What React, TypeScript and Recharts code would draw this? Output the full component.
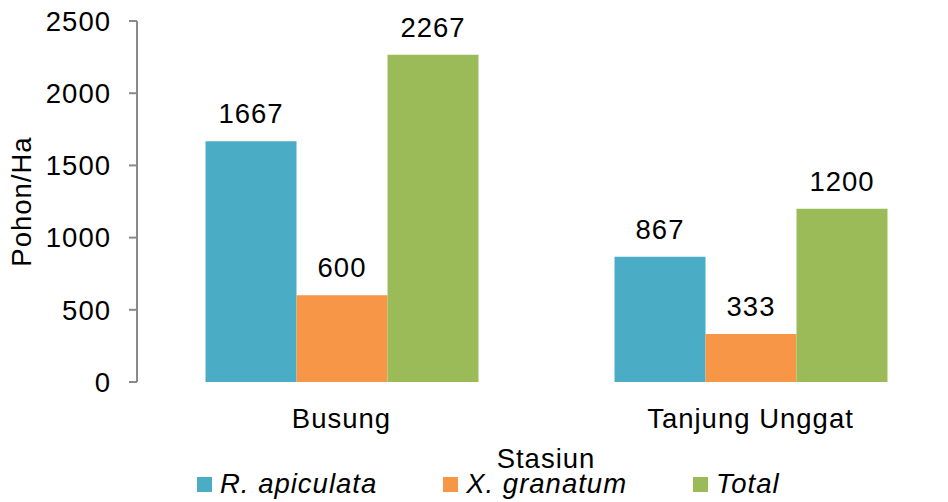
import { BarChart, Bar, XAxis, YAxis, Legend, LabelList } from 'recharts'

const stations = ['Busung', 'Tanjung Unggat']
const apiculata = [1667, 867]
const granatum = [600, 333]
const total = [2267, 1200]
const yTicks = [0, 500, 1000, 1500, 2000, 2500]

const seriesInfo = [
  { key: 'apiculata', name: 'R. apiculata', color: '#4BACC6' },
  { key: 'granatum', name: 'X. granatum', color: '#F79646' },
  { key: 'total', name: 'Total', color: '#9BBB59' },
]

const data = stations.map((s, i) => ({
  station: s,
  apiculata: apiculata[i],
  granatum: granatum[i],
  total: total[i],
}))

const font = 'Liberation Sans, Arial, sans-serif'
const axisColor = '#8a8a8a'
const txt = { fontFamily: font, fontSize: 27.5, fill: '#000', letterSpacing: 1 }

function LegendBox() {
  return (
    <div style={{ display: 'flex', alignItems: 'center', fontFamily: font, fontSize: 27.5, letterSpacing: 1, fontStyle: 'italic', color: '#000', lineHeight: '28px' }}>
      {seriesInfo.map((s, i) => (
        <div key={s.key} style={{ display: 'flex', alignItems: 'center', marginRight: i < 2 ? 66 : 0 }}>
          <span style={{ width: 15, height: 15, background: s.color, display: 'inline-block', marginRight: 8 }} />
          <span>{s.name}</span>
        </div>
      ))}
    </div>
  )
}

export default function App() {
  return (
    <div style={{ position: 'fixed', left: 0, top: 0, width: 948, height: 502, overflow: 'hidden', background: '#fff' }}>
      <BarChart
        width={960}
        height={502}
        data={data}
        margin={{ top: 21, right: 5, bottom: 0, left: 0 }}
        barCategoryGap="16.75%"
        barGap={0}
      >
        <XAxis
          xAxisId="edges"
          type="number"
          domain={[0, 2]}
          ticks={[0, 1, 2]}
          tick={false}
          tickSize={9}
          height={0}
          axisLine={{ stroke: axisColor, strokeWidth: 2 }}
          tickLine={{ stroke: axisColor, strokeWidth: 2 }}
        />
        <XAxis
          xAxisId="cat"
          dataKey="station"
          height={88}
          axisLine={false}
          tickLine={false}
          tickSize={0}
          tickMargin={26}
          tick={txt}
          label={{ value: 'Stasiun', position: 'insideBottom', offset: 2, ...txt }}
        />
        <YAxis
          width={137}
          domain={[0, 2500]}
          ticks={yTicks}
          interval={0}
          tickSize={8}
          tickMargin={18}
          axisLine={{ stroke: axisColor, strokeWidth: 2 }}
          tickLine={{ stroke: axisColor, strokeWidth: 2 }}
          tick={txt}
          label={{
            value: 'Pohon/Ha',
            angle: -90,
            position: 'insideLeft',
            offset: 21,
            ...txt,
            style: { textAnchor: 'middle' },
          }}
        />
        <Legend
          verticalAlign="bottom"
          height={32}
          content={<LegendBox />}
          wrapperStyle={{ left: 197, width: 700 }}
        />
        {seriesInfo.map((s) => (
          <Bar key={s.key} xAxisId="cat" dataKey={s.key} name={s.name} fill={s.color} isAnimationActive={false}>
            <LabelList dataKey={s.key} position="top" offset={18} style={txt} />
          </Bar>
        ))}
      </BarChart>
    </div>
  )
}
